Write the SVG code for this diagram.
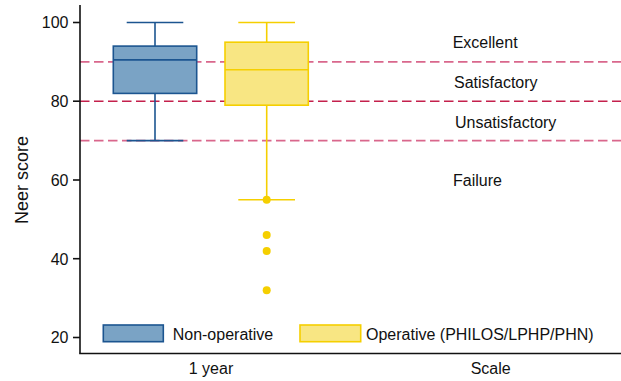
<svg xmlns="http://www.w3.org/2000/svg" width="621" height="381" viewBox="0 0 621 381">
  <style>
    text { font-family: "Liberation Sans", Arial, Helvetica, sans-serif; font-size: 16px; fill: #111; }
    .axis { stroke: #111; stroke-width: 1.6; fill: none; }
    .ref { stroke-width: 1.6; stroke-dasharray: 9.5 4.5; fill: none; }
    .ref-light { stroke: #d9678c; }
    .ref-dark { stroke: #c4204c; }
    .blue { stroke: #1c5590; stroke-width: 1.6; fill: #7aa3c5; }
    .blue-line { stroke: #1c5590; stroke-width: 1.6; fill: none; }
    .yellow { stroke: #f5cf00; stroke-width: 1.6; fill: #f8e683; }
    .yellow-line { stroke: #f5cf00; stroke-width: 1.6; fill: none; }
    .outlier { fill: #f5cf00; }
  </style>

  <!-- reference thresholds (90, 80, 70) -->
  <g id="thresholds">
    <line class="ref ref-light" x1="80" y1="61.9" x2="621" y2="61.9"/>
    <line class="ref ref-dark" x1="80" y1="101.2" x2="621" y2="101.2"/>
    <line class="ref ref-light" x1="80" y1="140.6" x2="621" y2="140.6"/>
  </g>

  <!-- axes -->
  <g id="axes">
    <line class="axis" x1="80" y1="5" x2="80" y2="353.5"/>
    <line class="axis" x1="79.2" y1="353.5" x2="621" y2="353.5"/>
    <line class="axis" x1="73" y1="22.5" x2="80" y2="22.5"/>
    <line class="axis" x1="73" y1="101.2" x2="80" y2="101.2"/>
    <line class="axis" x1="73" y1="180" x2="80" y2="180"/>
    <line class="axis" x1="73" y1="258.7" x2="80" y2="258.7"/>
    <line class="axis" x1="73" y1="337.5" x2="80" y2="337.5"/>
    <g text-anchor="end">
      <text x="68.5" y="28.2">100</text>
      <text x="68.5" y="107">80</text>
      <text x="68.5" y="185.8">60</text>
      <text x="68.5" y="264.5">40</text>
      <text x="68.5" y="343.3">20</text>
    </g>
    <text x="28" y="180" text-anchor="middle" transform="rotate(-90 28 180)" style="font-size:18px">Neer score</text>
    <text x="211" y="374" text-anchor="middle">1 year</text>
    <text x="490.7" y="374" text-anchor="middle">Scale</text>
  </g>

  <!-- non-operative box -->
  <g id="box-nonoperative">
    <line class="blue-line" x1="155" y1="22.5" x2="155" y2="46.1"/>
    <line class="blue-line" x1="155" y1="93.4" x2="155" y2="140.6"/>
    <line class="blue-line" x1="126.7" y1="22.5" x2="183.3" y2="22.5"/>
    <line class="blue-line" x1="126.7" y1="140.6" x2="183.3" y2="140.6"/>
    <rect class="blue" x="113.3" y="46.1" width="83.4" height="47.3"/>
    <line class="blue-line" x1="113.3" y1="59.9" x2="196.7" y2="59.9"/>
  </g>

  <!-- operative box -->
  <g id="box-operative">
    <line class="yellow-line" x1="266.7" y1="22.5" x2="266.7" y2="42.2"/>
    <line class="yellow-line" x1="266.7" y1="105.2" x2="266.7" y2="199.7"/>
    <line class="yellow-line" x1="238.3" y1="22.5" x2="295" y2="22.5"/>
    <line class="yellow-line" x1="238.3" y1="199.7" x2="295" y2="199.7"/>
    <rect class="yellow" x="225" y="42.2" width="83.3" height="63"/>
    <line class="yellow-line" x1="225" y1="69.7" x2="308.3" y2="69.7"/>
    <circle class="outlier" cx="266.7" cy="199.7" r="4"/>
    <circle class="outlier" cx="266.7" cy="235.1" r="4"/>
    <circle class="outlier" cx="266.7" cy="250.9" r="4"/>
    <circle class="outlier" cx="266.7" cy="290.3" r="4"/>
  </g>

  <!-- scale labels -->
  <g id="scale-labels">
    <text x="452.7" y="48">Excellent</text>
    <text x="454" y="88">Satisfactory</text>
    <text x="455" y="127.5">Unsatisfactory</text>
    <text x="453" y="186">Failure</text>
  </g>

  <!-- legend -->
  <g id="legend">
    <rect class="blue" x="103.3" y="325" width="60" height="16.7"/>
    <text x="172.7" y="340">Non-operative</text>
    <rect class="yellow" x="300" y="325" width="60.7" height="16.7"/>
    <text x="366" y="340">Operative (PHILOS/LPHP/PHN)</text>
  </g>
</svg>
